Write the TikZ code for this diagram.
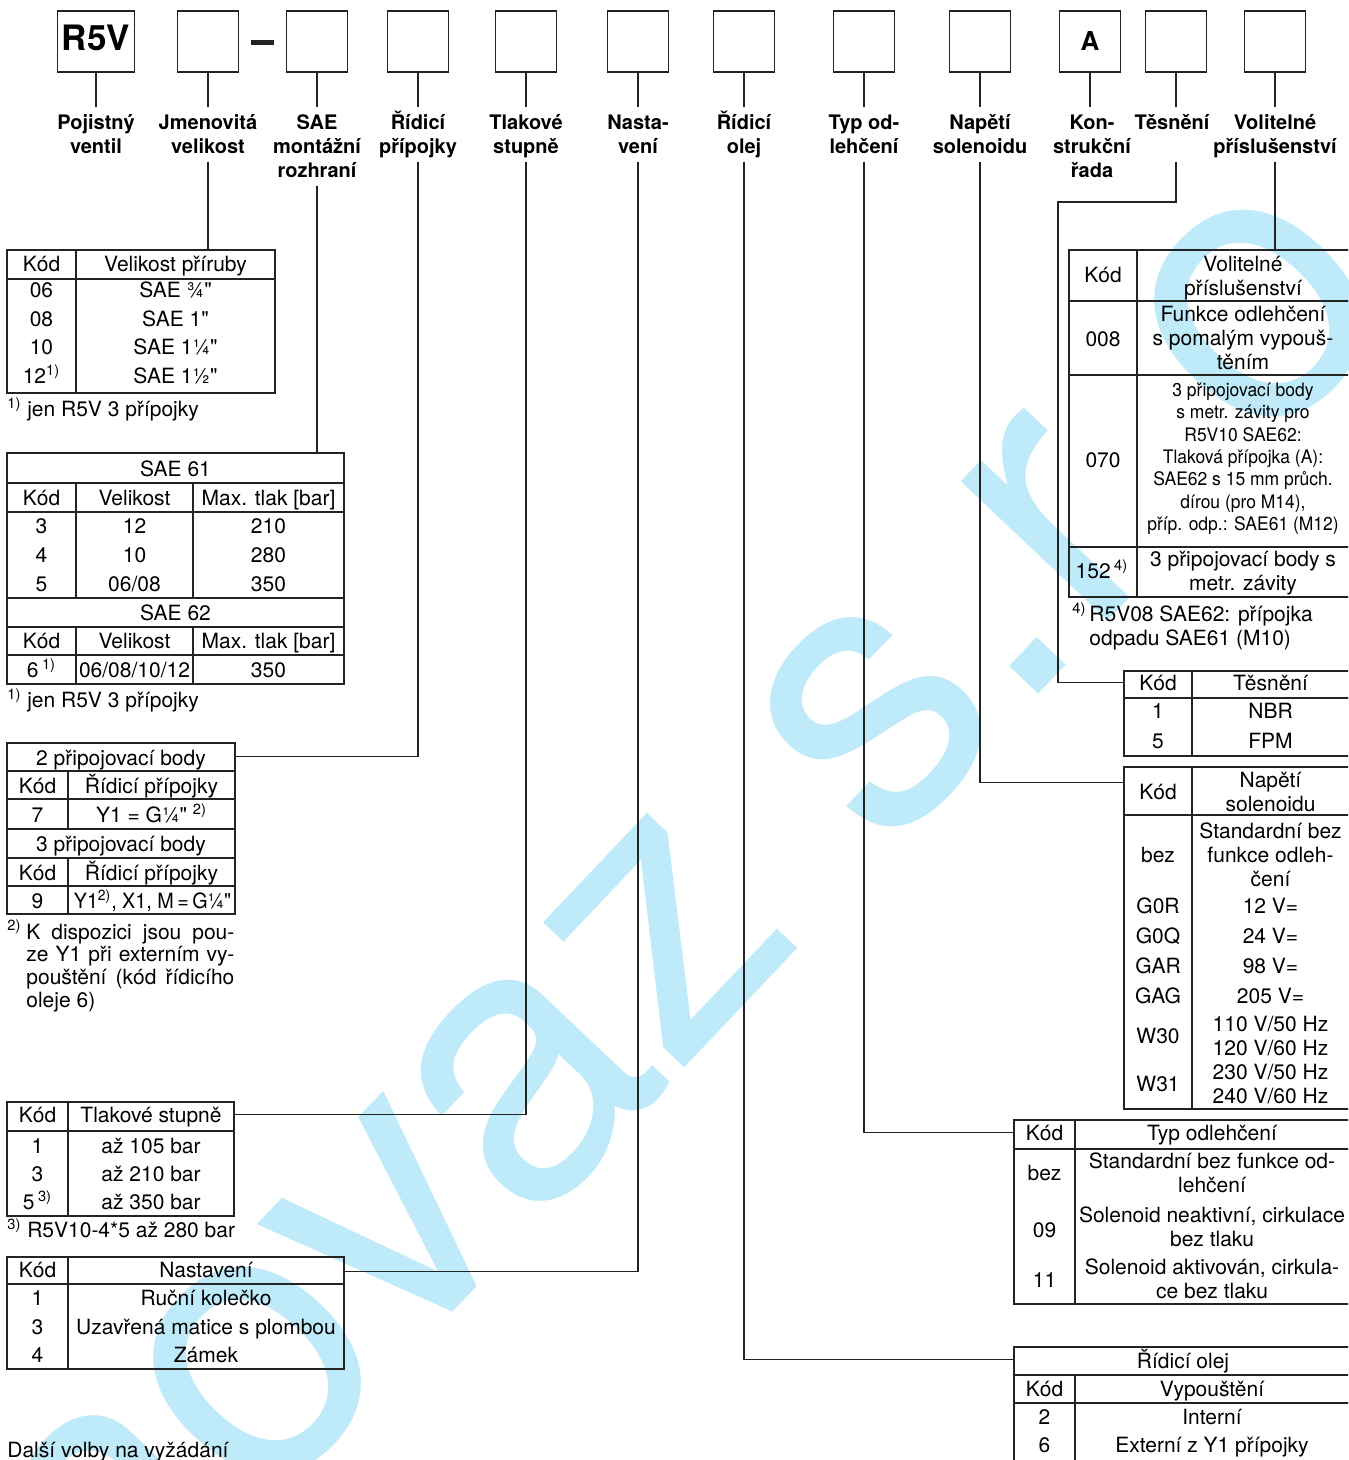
\documentclass[tikz,border=0pt]{standalone}
\usepackage{fontspec}
\setmainfont{TeX Gyre Heros}[Ligatures=TeXOff]
\newfontfamily\condfont[FakeStretch=0.94]{TeX Gyre Heros}
\usetikzlibrary{positioning,fit}
\definecolor{wm}{RGB}{190,234,250}
\definecolor{ink}{RGB}{35,35,35}
\newcommand{\fnm}[1]{\textsuperscript{#1)}}
\newcommand{\hi}{\vphantom{Ř}}
\newcommand{\lo}{\vphantom{gy}}

\begin{document}
\begin{tikzpicture}[
  x=0.5pt, y=-0.5pt,
  font=\fontsize{10.5}{12}\selectfont,
  txt/.style={inner sep=0pt, align=center,
    execute at begin node=\hi, execute at end node=\lo},
  codebox/.style={draw=ink, line width=0.8pt, minimum width=30.5pt,
    minimum height=30.5pt, inner sep=0pt, font=\bfseries\fontsize{17.5}{17.5}\selectfont},
  lbl/.style={txt, anchor=north, outer sep=2pt, font=\bfseries\fontsize{10}{12}\selectfont},
  tab/.style={draw=ink, line width=0.7pt, inner sep=0pt},
  grid/.style={draw=ink, line width=0.7pt},
  lead/.style={draw=ink, line width=0.55pt},
  wmk/.style={rotate=46.55, inner sep=0pt, text=wm, font=\fontsize{193}{193}\selectfont},
  fn/.style={txt, anchor=west, align=left}]

\path[use as bounding box] (0,0) rectangle (1348,1460);
\clip (0,0) rectangle (1348,1460);
\fill[white] (0,0) rectangle (1348,1460);

% ===== watermark =====
\node[wmk, anchor=base west] (wmark) at (111,1673) {novaz s.r};
\node[wmk] (wmarko) at (1260,312) {o};

% ===== type code (y=41.5) =====
\node[codebox, minimum width=38.5pt, text depth=4pt] (cR5V) at (96,41.5) {R5V};
\node[codebox] (cNG)  at (208,41.5) {};
\node[fill=ink, inner sep=0pt, minimum width=11.5pt, minimum height=2.3pt] (dash) at (262.5,42.5) {};
\node[codebox] (cSAE) at (317,41.5) {};
\node[codebox] (cRP)  at (418,41.5) {};
\node[codebox] (cTS)  at (526,41.5) {};
\node[codebox] (cNA)  at (638,41.5) {};
\node[codebox] (cRO)  at (744,41.5) {};
\node[codebox] (cTO)  at (864,41.5) {};
\node[codebox] (cNS)  at (980,41.5) {};
\node[codebox, font=\bfseries\fontsize{13}{13}\selectfont] (cA) at (1090,41.5) {A};
\node[codebox] (cTE)  at (1176,41.5) {};
\node[codebox] (cVP)  at (1275,41.5) {};

% ===== labels (y=106.7) =====
\node[lbl] (lPV)  at (96,106.7)   {\hi Pojistný\\ventil};
\node[lbl] (lNV)  at (208,106.7)  {\hi Jmenovitá\\velikost};
\node[lbl] (lSAE) at (317,106.7)  {\hi SAE\\montážní\\rozhraní};
\node[lbl] (lRP)  at (418,106.7)  {\hi Řídicí\\přípojky};
\node[lbl] (lTS)  at (526,106.7)  {\hi Tlakové\\stupně};
\node[lbl] (lNA)  at (638,106.7)  {\hi Nasta-\\vení};
\node[lbl] (lRO)  at (744,106.7)  {\hi Řídicí\\olej};
\node[lbl] (lTO)  at (864,106.7)  {\hi Typ od-\\lehčení};
\node[lbl] (lNS)  at (980,106.7)  {\hi Napětí\\solenoidu};
\node[lbl] (lKR)  at (1092,106.7) {\hi Kon-\\strukční\\řada};
\node[lbl] (lTE)  at (1172,106.7) {Těsnění};
\node[lbl] (lVP)  at (1275,106.7) {\hi Volitelné\\příslušenství};

% ===== Velikost příruby =====
\node[tab, fit={(7,250) (275,393)}] (tVel) {};
\draw[grid] (7,279) -- (275,279) (76,250) -- (76,393);
\node[txt] (velh1) at (41.5,264.5) {Kód};
\node[txt] (velh2) at (175.5,264.5) {Velikost příruby};
\foreach \k/\t/\y [count=\i] in {06/{SAE ¾"}/290.5, 08/{SAE 1"}/319,
    10/{SAE 1¼"}/347.5, {12\fnm{1}}/{SAE 1½"}/376}{
  \node[txt] (velk\i) at (41.5,\y) {\k};
  \node[txt] (velt\i) at (175.5,\y) {\t};
}
\node[fn] (velfn) at (7,409) {\fnm{1} jen R5V 3 přípojky};

% ===== SAE 61 / SAE 62 =====
\node[tab, fit={(7,453) (344,684)}] (tSAE) {};
\draw[grid] (7,483) -- (344,483) (7,512) -- (344,512) (7,598) -- (344,598)
  (7,627) -- (344,627) (7,655) -- (344,655)
  (76,483) -- (76,598) (193,483) -- (193,598) (76,627) -- (76,684) (193,627) -- (193,684);
\node[txt] (sae61) at (175.5,469) {SAE 61};
\node[txt] (sae62) at (175.5,613) {SAE 62};
\foreach \y/\n in {498/a, 641/b}{
  \node[txt] (saek\n) at (41.5,\y) {Kód};
  \node[txt] (saev\n) at (134.5,\y) {Velikost};
  \node[txt] (saep\n) at (268.5,\y) {Max. tlak [bar]};
}
\foreach \k/\v/\p/\y [count=\i] in {3/12/210/526.5, 4/10/280/555, 5/{06/08}/350/584,
    {6\,\fnm{1}}/{06/08/10/12}/350/670}{
  \node[txt] (saec\i) at (41.5,\y) {\k};
  \node[txt] (saes\i) at (134.5,\y) {\v};
  \node[txt] (saet\i) at (268.5,\y) {\p};
}
\node[fn] (saefn) at (7,700) {\fnm{1} jen R5V 3 přípojky};

% ===== Řídicí přípojky =====
\node[tab, fit={(7,743) (235,914)}] (tRid) {};
\draw[grid] (7,771) -- (235,771) (7,799) -- (235,799) (7,829) -- (235,829)
  (7,858) -- (235,858) (7,886) -- (235,886) (68,771) -- (68,829) (68,858) -- (68,914);
\node[txt] (rid2)  at (121,758)   {2 připojovací body};
\node[txt] (ridk1) at (37.5,786)  {Kód};
\node[txt] (ridh1) at (151.5,786) {Řídicí přípojky};
\node[txt] (ridc1) at (37.5,815)  {7};
\node[txt] (ridt1) at (151.5,815) {Y1 = G¼" \fnm{2}};
\node[txt] (rid3)  at (121,844)   {3 připojovací body};
\node[txt] (ridk2) at (37.5,873)  {Kód};
\node[txt] (ridh2) at (151.5,873) {Řídicí přípojky};
\node[txt] (ridc2) at (37.5,901)  {9};
\node[txt, font=\condfont\fontsize{10.5}{12}\selectfont] (ridt2) at (152.5,901) {Y1\fnm{2}, X1, M\,=\,G¼"};
\node[fn] (ridfm) at (7,931.5) {\fnm{2}};
\node[fn, font=\fontsize{10.5}{11.4}\selectfont] (ridfn) at (26,966)
  {\hi\makebox[104pt][s]{K dispozici jsou pou-}\\\makebox[104pt][s]{ze Y1 při externím vy-}\\
   \makebox[104pt][s]{pouštění (kód řídicího}\\oleje 6)\lo};

% ===== Tlakové stupně =====
\node[tab, fit={(7,1102) (234,1216)}] (tTlak) {};
\draw[grid] (7,1131) -- (234,1131) (68,1102) -- (68,1216);
\node[txt] (tlk)  at (37.5,1115) {Kód};
\node[txt] (tlh)  at (151,1115)  {Tlakové stupně};
\foreach \k/\t/\y [count=\i] in {1/až 105 bar/1146, 3/až 210 bar/1174, {5\,\fnm{3}}/až 350 bar/1202.5}{
  \node[txt] (tlc\i) at (37.5,\y) {\k};
  \node[txt] (tlt\i) at (151,\y)  {\t};
}
\node[fn] (tlfn) at (7,1230) {\fnm{3} R5V10-4*5 až 280 bar};

% ===== Nastavení =====
\node[tab, fit={(7,1257) (344,1369)}] (tNast) {};
\draw[grid] (7,1284) -- (344,1284) (68,1257) -- (68,1369);
\node[txt] (nak) at (37.5,1270) {Kód};
\node[txt] (nah) at (206,1270)  {Nastavení};
\foreach \k/\t/\y [count=\i] in {1/Ruční kolečko/1298.5, 3/Uzavřená matice s plombou/1327, 4/Zámek/1355}{
  \node[txt] (nac\i) at (37.5,\y) {\k};
  \node[txt] (nat\i) at (206,\y)  {\t};
}
\node[fn] (dalsi) at (7,1450) {Další volby na vyžádání};

% ===== Volitelné příslušenství =====
\node[tab, fit={(1069,250) (1352,597)}] (tVol) {};
\draw[grid] (1069,301) -- (1352,301) (1069,375) -- (1352,375) (1069,547) -- (1352,547)
  (1137,250) -- (1137,597);
\node[txt] (volk)  at (1103,275.5) {Kód};
\node[txt] (volh)  at (1243,276)   {\hi Volitelné\\příslušenství\lo};
\node[txt] (vol1k) at (1103,339)   {008};
\node[txt] (vol1t) at (1243,338.5) {\hi Funkce odlehčení\\s pomalým vypouš-\\těním\lo};
\node[txt] (vol2k) at (1103,460.5) {070};
\node[txt, font=\condfont\fontsize{9.3}{11.2}\selectfont] (vol2t) at (1243,457)
  {\hi 3 připojovací body\\s metr. závity pro\\R5V10 SAE62:\\Tlaková přípojka (A):\\SAE62 s 15 mm průch.\\dírou (pro M14),\\příp. odp.: SAE61 (M12)\lo};
\node[txt] (vol3k) at (1102,571.5) {152\,\fnm{4}};
\node[txt] (vol3t) at (1243,571)   {\hi 3 připojovací body s\\metr. závity\lo};
\node[fn] (volfm) at (1072,614.5) {\fnm{4}};
\node[fn] (volfn) at (1089,626.5) {\hi R5V08 SAE62: přípojka\\odpadu SAE61 (M10)\lo};

% ===== Těsnění =====
\node[tab, fit={(1124,671) (1352,756)}] (tTes) {};
\draw[grid] (1124,698) -- (1352,698) (1192,671) -- (1192,756);
\node[txt] (tek) at (1158,683.5)   {Kód};
\node[txt] (teh) at (1270.5,683.5) {Těsnění};
\foreach \k/\t/\y [count=\i] in {1/NBR/711.5, 5/FPM/741}{
  \node[txt] (tec\i) at (1158,\y)   {\k};
  \node[txt] (tet\i) at (1270.5,\y) {\t};
}

% ===== Napětí solenoidu =====
\node[tab, fit={(1124,767) (1352,1109)}] (tNap) {};
\draw[grid] (1124,815) -- (1352,815) (1192,767) -- (1192,1109);
\node[txt] (nsk)  at (1158,792)     {Kód};
\node[txt] (nsh)  at (1270.5,792.5) {\hi Napětí\\solenoidu\lo};
\node[txt] (nsc0) at (1158,855)     {bez};
\node[txt] (nst0) at (1270.5,855)   {\hi Standardní bez\\funkce odleh-\\čení\lo};
\foreach \k/\t/\y [count=\i] in {G0R/12 V=/906.5, G0Q/24 V=/936, GAR/98 V=/966, GAG/205 V=/996,
    W30/{\hi 110 V/50 Hz\\120 V/60 Hz\lo}/1036.5, W31/{\hi 230 V/50 Hz\\240 V/60 Hz\lo}/1084.5}{
  \node[txt] (nsc\i) at (1158,\y)   {\k};
  \node[txt] (nst\i) at (1270.5,\y) {\t};
}

% ===== Typ odlehčení =====
\node[tab, fit={(1014,1120) (1352,1304)}] (tTyp) {};
\draw[grid] (1014,1149) -- (1352,1149) (1075,1120) -- (1075,1304);
\node[txt] (tyk)  at (1044.5,1133)   {Kód};
\node[txt] (tyh)  at (1212,1133)     {Typ odlehčení};
\node[txt] (tyc1) at (1044.5,1173.5) {bez};
\node[txt] (tyt1) at (1212,1173)     {\hi Standardní bez funkce od-\\lehčení\lo};
\node[txt] (tyc2) at (1044.5,1230.5) {09};
\node[txt] (tyt2) at (1212,1227.5)   {\hi Solenoid neaktivní, cirkulace\\bez tlaku\lo};
\node[txt] (tyc3) at (1044.5,1280)   {11};
\node[txt] (tyt3) at (1212,1279)     {\hi Solenoid aktivován, cirkula-\\ce bez tlaku\lo};

% ===== Řídicí olej =====
\node[tab, fit={(1014,1347) (1352,1475)}] (tOlej) {};
\draw[grid] (1014,1375) -- (1352,1375) (1014,1403) -- (1352,1403) (1075,1375) -- (1075,1475);
\node[txt] (olh) at (1183,1361)    {Řídicí olej};
\node[txt] (olk) at (1044.5,1389)  {Kód};
\node[txt] (olv) at (1212,1389)    {Vypouštění};
\foreach \k/\t/\y [count=\i] in {2/Interní/1417, 6/Externí z Y1 přípojky/1445.5}{
  \node[txt] (olc\i) at (1044.5,\y) {\k};
  \node[txt] (olt\i) at (1212,\y)   {\t};
}

% ===== leads =====
\coordinate (jTE) at (1176,162);
\coordinate (kTE) at (1058,202);
\foreach \c/\l in {cR5V/lPV, cNG/lNV, cSAE/lSAE, cRP/lRP, cTS/lTS, cNA/lNA, cRO/lRO,
    cTO/lTO, cNS/lNS, cA/lKR, cTE/lTE, cVP/lVP}
  \draw[lead] (\c.south) -- (\c.south |- \l.north);
\draw[lead] (lNV.south) -- (lNV.south |- tVel.north);
\draw[lead] (lSAE.south) -- (lSAE.south |- tSAE.north);
\draw[lead] (lRP.south) |- ([yshift=-7pt]tRid.north east);
\draw[lead] (lTS.south) |- ([yshift=-6.5pt]tTlak.north east);
\draw[lead] (lNA.south) |- ([yshift=-7.5pt]tNast.north east);
\draw[lead] (lRO.south) |- ([yshift=-6.5pt]tOlej.north west);
\draw[lead] (lTO.south) |- ([yshift=-6.5pt]tTyp.north west);
\draw[lead] (lNS.south) |- ([yshift=-8pt]tNap.north west);
\draw[lead] (jTE) |- (kTE) |- ([yshift=-6pt]tTes.north west);
\draw[lead] (lVP.south) -- (lVP.south |- tVol.north);

\end{tikzpicture}
\end{document}
